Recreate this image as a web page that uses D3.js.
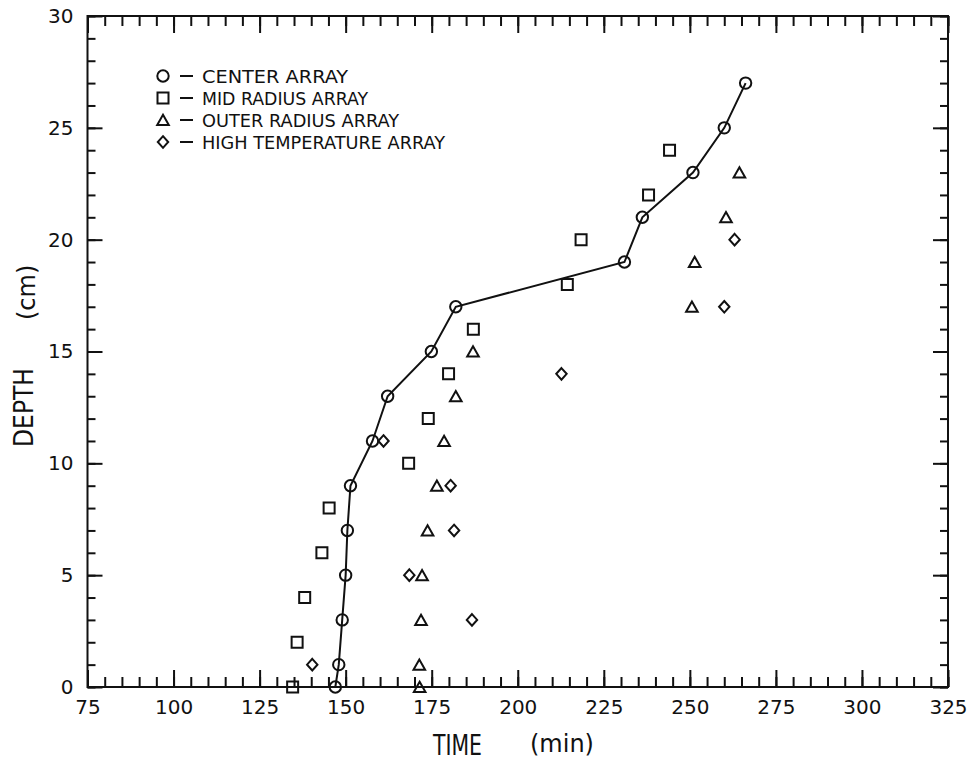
<!DOCTYPE html>
<html>
<head>
<meta charset="utf-8">
<script src="https://cdn.jsdelivr.net/npm/d3@7"></script>
<style>
  body { margin: 0; background: #fff; }
  .tick text { font-family: "DejaVu Sans", sans-serif; font-size: 20px; fill: #111; }
  .tick line { stroke: #111; stroke-width: 2; }
</style>
</head>
<body>
<svg id="chart" width="968" height="767"></svg>
<script>
// depth (cm) for each array
var centerDepth = [0, 1, 3, 5, 7, 9, 11, 13, 15, 17, 19, 21, 23, 25, 27];
var centerTime  = [147, 148, 149, 150, 150.5, 151.4, 157.8, 162.2, 174.9, 182, 231, 236.2, 250.9, 260, 266.2];

var midDepth = [0, 2, 4, 6, 8, 10, 12, 14, 16, 18, 20, 22, 24];
var midTime  = [134.6, 135.9, 138.1, 143.1, 145.2, 168.3, 174, 179.9, 187.1, 214.4, 218.4, 238, 244.1];

var outerDepth = [0, 1, 3, 5, 7, 9, 11, 13, 15, 17, 19, 21, 23];
var outerTime  = [171.5, 171.4, 171.9, 172.2, 173.8, 176.5, 178.6, 182, 187, 250.6, 251.4, 260.5, 264.4];

var highDepth = [1, 3, 5, 7, 9, 11, 14, 17, 20];
var highTime  = [140.3, 186.7, 168.5, 181.5, 180.5, 161, 212.7, 260, 263];

var legendLabels = ["CENTER ARRAY", "MID RADIUS ARRAY", "OUTER RADIUS ARRAY", "HIGH TEMPERATURE ARRAY"];

var xMajor = d3.range(75, 326, 25),
    xMinor = d3.range(75, 326, 5),
    yMajor = d3.range(0, 31, 5),
    yMinor = d3.range(0, 31, 1);

var svg = d3.select("#chart");

var plotLeft = 87.5, plotRight = 948, plotTop = 16, plotBottom = 687;

var x = d3.scaleLinear().domain([75, 325]).range([plotLeft, plotRight]);
var y = d3.scaleLinear().domain([0, 30]).range([plotBottom, plotTop]);

// custom marker shapes
var shapes = {
  circle: function(p) { p.moveTo(5.7, 0); p.arc(0, 0, 5.7, 0, 2 * Math.PI); },
  square: function(p) { p.rect(-5.5, -5.5, 11, 11); },
  triangle: function(p) { p.moveTo(0, -5.2); p.lineTo(5.8, 5); p.lineTo(-5.8, 5); p.closePath(); },
  diamond: function(p) { p.moveTo(0, -5.8); p.lineTo(5.2, 0); p.lineTo(0, 5.8); p.lineTo(-5.2, 0); p.closePath(); }
};
function shapePath(name) {
  var p = d3.path(); shapes[name](p); return p.toString();
}

/* axes: minor and major ticks, all pointing inward */
function styleAxis(g) {
  g.select(".domain").remove();
}

svg.append("g").attr("transform", "translate(0," + plotBottom + ")")
  .call(d3.axisBottom(x).tickValues(xMinor).tickSize(-10).tickFormat("")).call(styleAxis);
svg.append("g").attr("transform", "translate(0," + plotBottom + ")")
  .call(d3.axisBottom(x).tickValues(xMajor).tickSize(-17).tickPadding(13).tickFormat(d3.format("d"))).call(styleAxis);
svg.append("g").attr("transform", "translate(0," + plotTop + ")")
  .call(d3.axisTop(x).tickValues(xMinor).tickSize(-10).tickFormat("")).call(styleAxis);
svg.append("g").attr("transform", "translate(0," + plotTop + ")")
  .call(d3.axisTop(x).tickValues(xMajor).tickSize(-17).tickFormat("")).call(styleAxis);

svg.append("g").attr("transform", "translate(" + plotLeft + ",0)")
  .call(d3.axisLeft(y).tickValues(yMinor).tickSize(-8).tickFormat("")).call(styleAxis);
svg.append("g").attr("transform", "translate(" + plotLeft + ",0)")
  .call(d3.axisLeft(y).tickValues(yMajor).tickSize(-15).tickPadding(14).tickFormat(d3.format("d"))).call(styleAxis);
svg.append("g").attr("transform", "translate(" + plotRight + ",0)")
  .call(d3.axisRight(y).tickValues(yMinor).tickSize(-8).tickFormat("")).call(styleAxis);
svg.append("g").attr("transform", "translate(" + plotRight + ",0)")
  .call(d3.axisRight(y).tickValues(yMajor).tickSize(-15).tickFormat("")).call(styleAxis);

// frame
svg.append("rect")
  .attr("x", plotLeft).attr("y", plotTop)
  .attr("width", plotRight - plotLeft).attr("height", plotBottom - plotTop)
  .attr("fill", "none").attr("stroke", "#111").attr("stroke-width", 2);

// axis titles
svg.append("text")
  .attr("x", 433).attr("y", 755)
  .attr("textLength", 49).attr("lengthAdjust", "spacingAndGlyphs")
  .style("font-family", "DejaVu Sans Condensed, DejaVu Sans").style("font-size", "28px").attr("fill", "#111")
  .text("TIME");
svg.append("text")
  .attr("x", 530).attr("y", 752)
  .style("font-family", "DejaVu Sans").style("font-size", "24px").attr("fill", "#111")
  .text("(min)");

svg.append("text")
  .attr("transform", "translate(33,447) rotate(-90)")
  .attr("textLength", 79).attr("lengthAdjust", "spacingAndGlyphs")
  .style("font-family", "DejaVu Sans Condensed, DejaVu Sans").style("font-size", "27px").attr("fill", "#111")
  .text("DEPTH");
svg.append("text")
  .attr("transform", "translate(35,320) rotate(-90)")
  .style("font-family", "DejaVu Sans").style("font-size", "24px").attr("fill", "#111")
  .text("(cm)");

// center array line
var line = d3.line().x(function(d) { return x(d[0]); }).y(function(d) { return y(d[1]); });
svg.append("path")
  .datum(d3.zip(centerTime, centerDepth))
  .attr("d", line)
  .attr("fill", "none").attr("stroke", "#111").attr("stroke-width", 2);

function drawSeries(times, depths, shape) {
  svg.append("g").selectAll("path")
    .data(d3.zip(times, depths))
    .enter().append("path")
    .attr("transform", function(d) { return "translate(" + x(d[0]) + "," + y(d[1]) + ")"; })
    .attr("d", shapePath(shape))
    .attr("fill", "none").attr("stroke", "#111").attr("stroke-width", 2);
}
drawSeries(centerTime, centerDepth, "circle");
drawSeries(midTime, midDepth, "square");
drawSeries(outerTime, outerDepth, "triangle");
drawSeries(highTime, highDepth, "diamond");

// legend
var legendShapes = ["circle", "square", "triangle", "diamond"];
var legend = svg.append("g").selectAll("g")
  .data(legendLabels)
  .enter().append("g")
  .attr("transform", function(d, i) { return "translate(163," + (76 + i * 22) + ")"; });

legend.append("path")
  .attr("d", function(d, i) { return shapePath(legendShapes[i]); })
  .attr("fill", "none").attr("stroke", "#111").attr("stroke-width", 2);
legend.append("line")
  .attr("x1", 17).attr("x2", 30).attr("y1", 0).attr("y2", 0)
  .attr("stroke", "#111").attr("stroke-width", 2);
legend.append("text")
  .attr("x", 39).attr("y", 6.5)
  .attr("textLength", function(d, i) { return [146, 166, 197, 243][i]; })
  .attr("lengthAdjust", "spacingAndGlyphs")
  .style("font-family", "DejaVu Sans Condensed, DejaVu Sans").style("font-size", "18px").attr("fill", "#111")
  .text(function(d) { return d; });
</script>
</body>
</html>
